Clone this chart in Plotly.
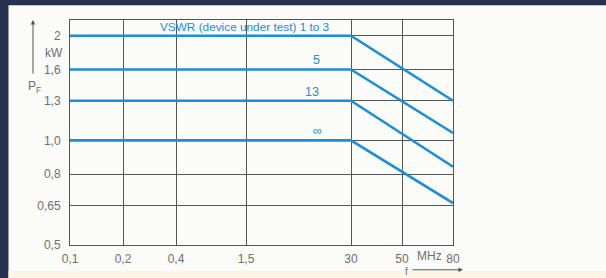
import numpy as np
import plotly.graph_objects as go

# ---- data ----
freq_ticks = [0.1, 0.2, 0.4, 1.5, 30, 50, 80]
freq_tick_labels = ["0,1", "0,2", "0,4", "1,5", "30", "50", "80"]
p_ticks = [0.5, 0.65, 0.8, 1.0, 1.3, 1.6, 2.0]
p_tick_labels = ["0,5", "0,65", "0,8", "1,0", "1,3", "1,6", "2"]

freq_points = [0.1, 30, 80]
series_names = ["VSWR (device under test) 1 to 3", "5", "13", "∞"]
p_vswr_1_3 = [2.0, 2.0, 1.3]
p_vswr_5 = [1.6, 1.6, 1.05]
p_vswr_13 = [1.3, 1.3, 0.84]
p_vswr_inf = [1.0, 1.0, 0.66]
series_values = [p_vswr_1_3, p_vswr_5, p_vswr_13, p_vswr_inf]

# ---- layout geometry ----
W, H = 606, 278
L, R, T, B = 70, 153, 20, 31
PW, PH = W - L - R, H - T - B
# non-uniform frequency axis (position of each labelled frequency along the axis)
tick_pos = [0, 53, 106, 176, 281, 332, 383]


def fpos(f):
    return np.interp(f, freq_ticks, tick_pos)


def px(x):
    return (x - L) / PW


def py(y):
    return (H - B - y) / PH


BLUE = "#1b8ed6"
GRID = "#555555"
TXT = "#6e6e6e"
FONT = "Liberation Sans, Arial, sans-serif"

fig = go.Figure()
for name, vals in zip(series_names, series_values):
    fig.add_trace(go.Scatter(
        x=fpos(freq_points), y=vals, mode="lines", name=name,
        line=dict(color=BLUE, width=2.6), showlegend=False, hoverinfo="skip"))

fig.update_layout(
    width=W, height=H,
    margin=dict(l=L, r=R, t=T, b=B, pad=0),
    paper_bgcolor="#283050",
    plot_bgcolor="rgba(0,0,0,0)",
    font=dict(family=FONT, color=TXT, size=12),
    xaxis=dict(range=[0, 383], tickvals=tick_pos, ticktext=freq_tick_labels,
               showgrid=True, gridcolor=GRID, gridwidth=1, zeroline=False,
               showline=True, linecolor=GRID, linewidth=1, mirror=True,
               ticks="", ticklabelstandoff=3, tickfont=dict(size=12, color=TXT)),
    yaxis=dict(type="log", range=[np.log10(0.5), np.log10(2.22)],
               tickvals=p_ticks, ticktext=p_tick_labels,
               showgrid=True, gridcolor=GRID, gridwidth=1, zeroline=False,
               showline=True, linecolor=GRID, linewidth=1, mirror=True,
               ticks="outside", ticklen=0, ticklabelstandoff=6,
               tickfont=dict(size=12, color=TXT)),
)

# card background and border
fig.add_shape(type="rect", xref="paper", yref="paper", layer="below",
              x0=px(8.5), x1=px(W + 5), y0=py(H + 5), y1=py(5),
              fillcolor="#fbfbf9", line_width=0)
fig.add_shape(type="rect", xref="paper", yref="paper", layer="below",
              x0=px(8.5), x1=px(W + 5), y0=py(H + 5), y1=py(273),
              fillcolor="#fcf4e4", line_width=0)

# series labels
label_pos = [(88, 2.0, "left"), (246, 1.6, "center"), (242, 1.3, "center"), (247, 1.0, "center")]
for (xp, yv, anc), name in zip(label_pos, series_names):
    fig.add_annotation(x=xp, y=np.log10(yv), xref="x", yref="y", text=name,
                       showarrow=False, xanchor=anc, yanchor="middle", yshift=9,
                       font=dict(size=11.8 if anc == "left" else 12.5, color=BLUE, family=FONT))


def note(x, y, text, size=12):
    fig.add_annotation(x=px(x), y=py(y), xref="paper", yref="paper", text=text,
                       showarrow=False, xanchor="center", yanchor="middle",
                       font=dict(size=size, color=TXT))


def arrow(x, y, ax, ay):
    fig.add_annotation(x=px(x), y=py(y), xref="paper", yref="paper", text="",
                       showarrow=True, ax=ax, ay=ay, arrowhead=2, arrowsize=0.9,
                       arrowwidth=1, arrowcolor="#555555")


# axis annotations
note(54, 53, "kW")
note(34, 88, "P<sub>F</sub>")
arrow(33, 20, 0, 55)
note(429, 258, "MHz")
note(406, 273.5, "f", 10)
arrow(463, 272, -52, 0)

fig.write_html("out.html", config={"displayModeBar": False},
               post_script="document.body.style.margin='0';document.body.style.overflow='hidden';")
